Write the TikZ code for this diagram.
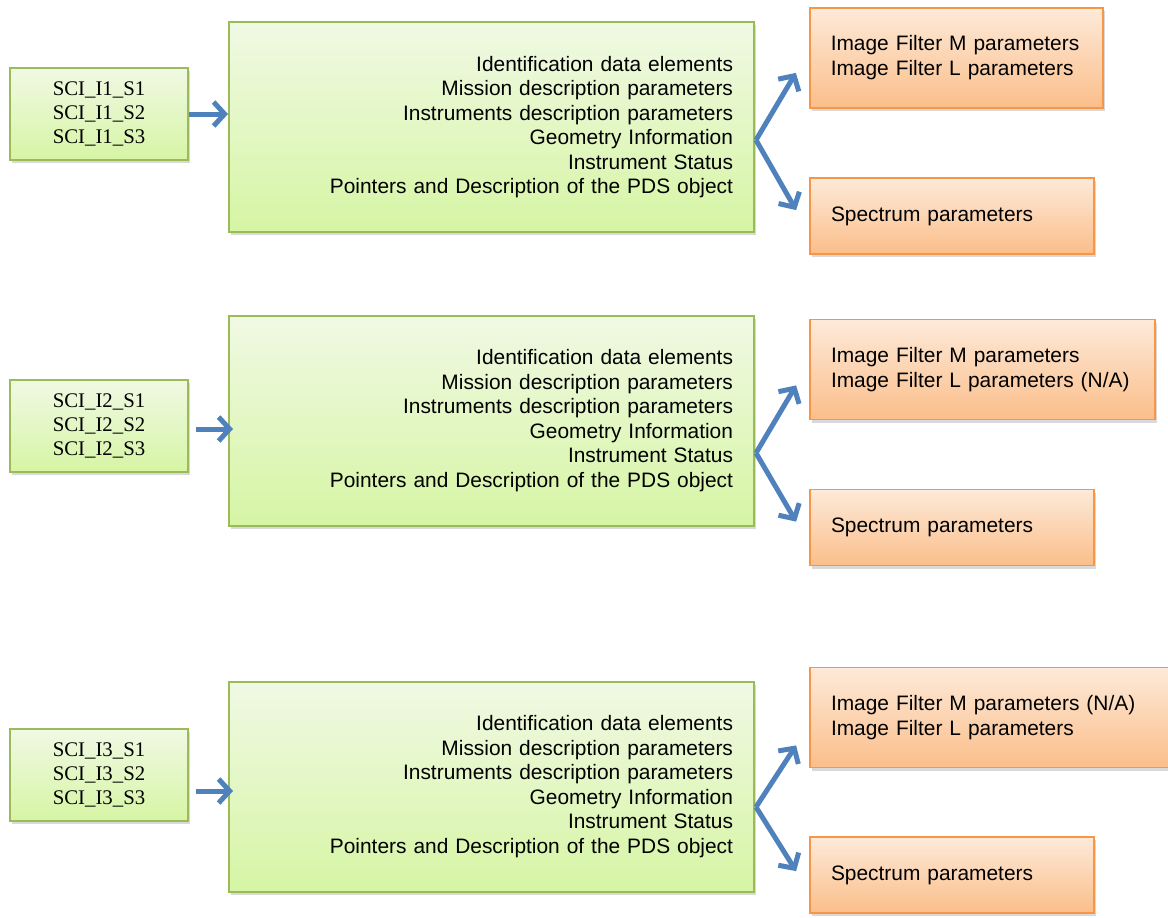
\documentclass[tikz,border=0pt]{standalone}
\usepackage{fontspec}
\setmainfont{Liberation Serif}
\setsansfont{Liberation Sans}
\usetikzlibrary{calc,arrows.meta,shadows,positioning}
\definecolor{GreenTop}{RGB}{240,249,228}
\definecolor{GreenBottom}{RGB}{214,245,164}
\definecolor{GreenBorder}{RGB}{155,187,89}
\definecolor{OrangeTop}{RGB}{253,234,217}
\definecolor{OrangeBottom}{RGB}{251,190,138}
\definecolor{OrangeBorder}{RGB}{247,150,70}
\definecolor{ArrowBlue}{RGB}{79,129,189}
\hyphenpenalty=10000

\begin{document}
\begin{tikzpicture}[x=0.5pt,y=-0.5pt,
  boxshadow/.style={drop shadow={shadow xshift=1pt,shadow yshift=-1.5pt,opacity=0.25,fill=black!60}},
  filebox/.style={draw=GreenBorder, line width=1pt, top color=GreenTop, bottom color=GreenBottom, boxshadow,
    minimum width=89pt, minimum height=46pt, align=center, font=\fontsize{10.4}{12}\selectfont},
  labelbox/.style={draw=GreenBorder, line width=1pt, top color=GreenTop, bottom color=GreenBottom, boxshadow,
    text width=241.5pt, inner xsep=10.5pt, minimum height=105pt, align=right, font=\sffamily\fontsize{10.45}{12.25}\selectfont},
  parambox/.style={draw=OrangeBorder, line width=0.9pt, top color=OrangeTop, bottom color=OrangeBottom, boxshadow,
    text width=#1, inner xsep=10.5pt, minimum height=50pt, align=left, font=\sffamily\fontsize{10.45}{12.5}\selectfont},
  arr/.style={draw=ArrowBlue, line width=2.5pt, -{Straight Barb[length=5.5pt,width=12pt]}}]

  \useasboundingbox (0,0) rectangle (1168,917);

  % first product
  \node[filebox] (l1) at (99,114) {SCI\_I1\_S1\\SCI\_I1\_S2\\SCI\_I1\_S3};
  \node[labelbox] (g1) at (491.5,127) {Identification data elements\\Mission description parameters\\Instruments description parameters\\Geometry Information\\Instrument Status\\Pointers and Description of the PDS object};
  \node[parambox=125.5pt] (t1) at (956.25,58) {Image Filter M parameters\\Image Filter L parameters};
  \node[parambox=121pt, minimum height=38pt] (s1) at (952,216) {Spectrum parameters};
  \coordinate (b1) at ($(g1.east)+(1,13)$);

  \draw[arr] (l1.east) -- ($(g1.west |- l1.east)+(0,0)$);
  \draw[arr] (b1) -- ($(t1.south west)+(-13,-36)$);
  \draw[arr] (b1) -- ($(s1.north west)+(-13,33)$);

  % second product
  \node[filebox] (l2) at (99,426) {SCI\_I2\_S1\\SCI\_I2\_S2\\SCI\_I2\_S3};
  \node[labelbox] (g2) at (491.5,420.5) {Identification data elements\\Mission description parameters\\Instruments description parameters\\Geometry Information\\Instrument Status\\Pointers and Description of the PDS object};
  \node[parambox=151.5pt] (t2) at (982.5,369.5) {Image Filter M parameters\\Image Filter L parameters (N/A)};
  \node[parambox=121pt, minimum height=38pt] (s2) at (952,527.5) {Spectrum parameters};
  \coordinate (b2) at ($(g2.east)+(1,32.5)$);

  \draw[arr] ($(l2.east)+(7,3)$) -- ($(g2.west |- l2.east)+(5,3)$);
  \draw[arr] (b2) -- ($(t2.south west)+(-13,-35)$);
  \draw[arr] (b2) -- ($(s2.north west)+(-13,33)$);

  % third product
  \node[filebox] (l3) at (99,775) {SCI\_I3\_S1\\SCI\_I3\_S2\\SCI\_I3\_S3};
  \node[labelbox] (g3) at (491.5,786.5) {Identification data elements\\Mission description parameters\\Instruments description parameters\\Geometry Information\\Instrument Status\\Pointers and Description of the PDS object};
  \node[parambox=159pt] (t3) at (990,717.5) {Image Filter M parameters (N/A)\\Image Filter L parameters};
  \node[parambox=121pt, minimum height=38pt] (s3) at (952,875) {Spectrum parameters};
  \coordinate (b3) at ($(g3.east)+(1,20.5)$);

  \draw[arr] ($(l3.east)+(7,16)$) -- ($(g3.west |- l3.east)+(5,16)$);
  \draw[arr] (b3) -- ($(t3.south west)+(-13,-23)$);
  \draw[arr] (b3) -- ($(s3.north west)+(-13,35)$);

\end{tikzpicture}
\end{document}
